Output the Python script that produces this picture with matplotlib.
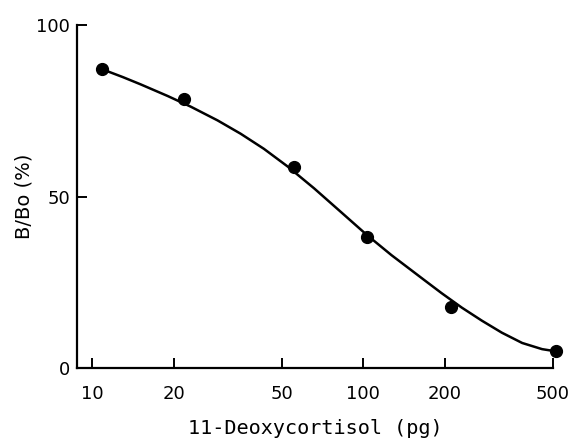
import numpy as np
import matplotlib
matplotlib.use("Agg")
import matplotlib.pyplot as plt
from matplotlib.ticker import FixedLocator, NullLocator, FixedFormatter

# measured points (pg, B/Bo %)
dose = [10.9, 21.9, 55.5, 103, 210, 514]
bbo = [87.1, 78.4, 58.5, 38.3, 17.8, 5.0]

# fitted curve
curve_x = [10.9, 13, 15.1, 19.0, 23.1, 29.0, 35.3, 43.0, 52.7, 65.8, 82.9,
           103, 127, 168, 194.5, 230.7, 273.5, 324, 385, 456, 509]
curve_y = [87.1, 84.8, 82.7, 79.3, 76.2, 72.2, 68.3, 63.9, 58.7, 52.4, 45.4,
           38.8, 32.9, 25.6, 21.8, 17.6, 13.8, 10.3, 7.3, 5.5, 4.9]

xticks = [10, 20, 50, 100, 200, 500]
yticks = [0, 50, 100]

plt.rcParams["font.family"] = ["DejaVu Sans"]

fig = plt.figure(figsize=(5.76, 4.42), dpi=100)
ax = fig.add_axes([0.1337, 0.1674, 0.960 - 0.1337, 0.9434 - 0.1674])

ax.plot(curve_x, curve_y, color="black", linewidth=1.8,
        solid_joinstyle="round", solid_capstyle="round", clip_on=False)
ax.plot(dose, bbo, "o", color="black", markersize=8.5, clip_on=False)

ax.set_xscale("log")
ax.set_xlim(8.8, 500)
ax.set_ylim(0, 100)

ax.xaxis.set_major_locator(FixedLocator(xticks))
ax.xaxis.set_major_formatter(FixedFormatter([str(t) for t in xticks]))
ax.xaxis.set_minor_locator(NullLocator())
ax.set_yticks(yticks)

for s in ["top", "right"]:
    ax.spines[s].set_visible(False)
for s in ["left", "bottom"]:
    ax.spines[s].set_linewidth(1.6)

ax.tick_params(axis="both", direction="in", length=7, width=1.4, labelsize=13)
ax.tick_params(axis="x", pad=12)
ax.tick_params(axis="y", pad=5)
ax.set_xlabel("11-Deoxycortisol (pg)", fontsize=14.5,
              family="DejaVu Sans Mono", labelpad=12)
ax.set_ylabel("B/Bo (%)", fontsize=14, labelpad=2)

fig.savefig("out.png", dpi=100)
